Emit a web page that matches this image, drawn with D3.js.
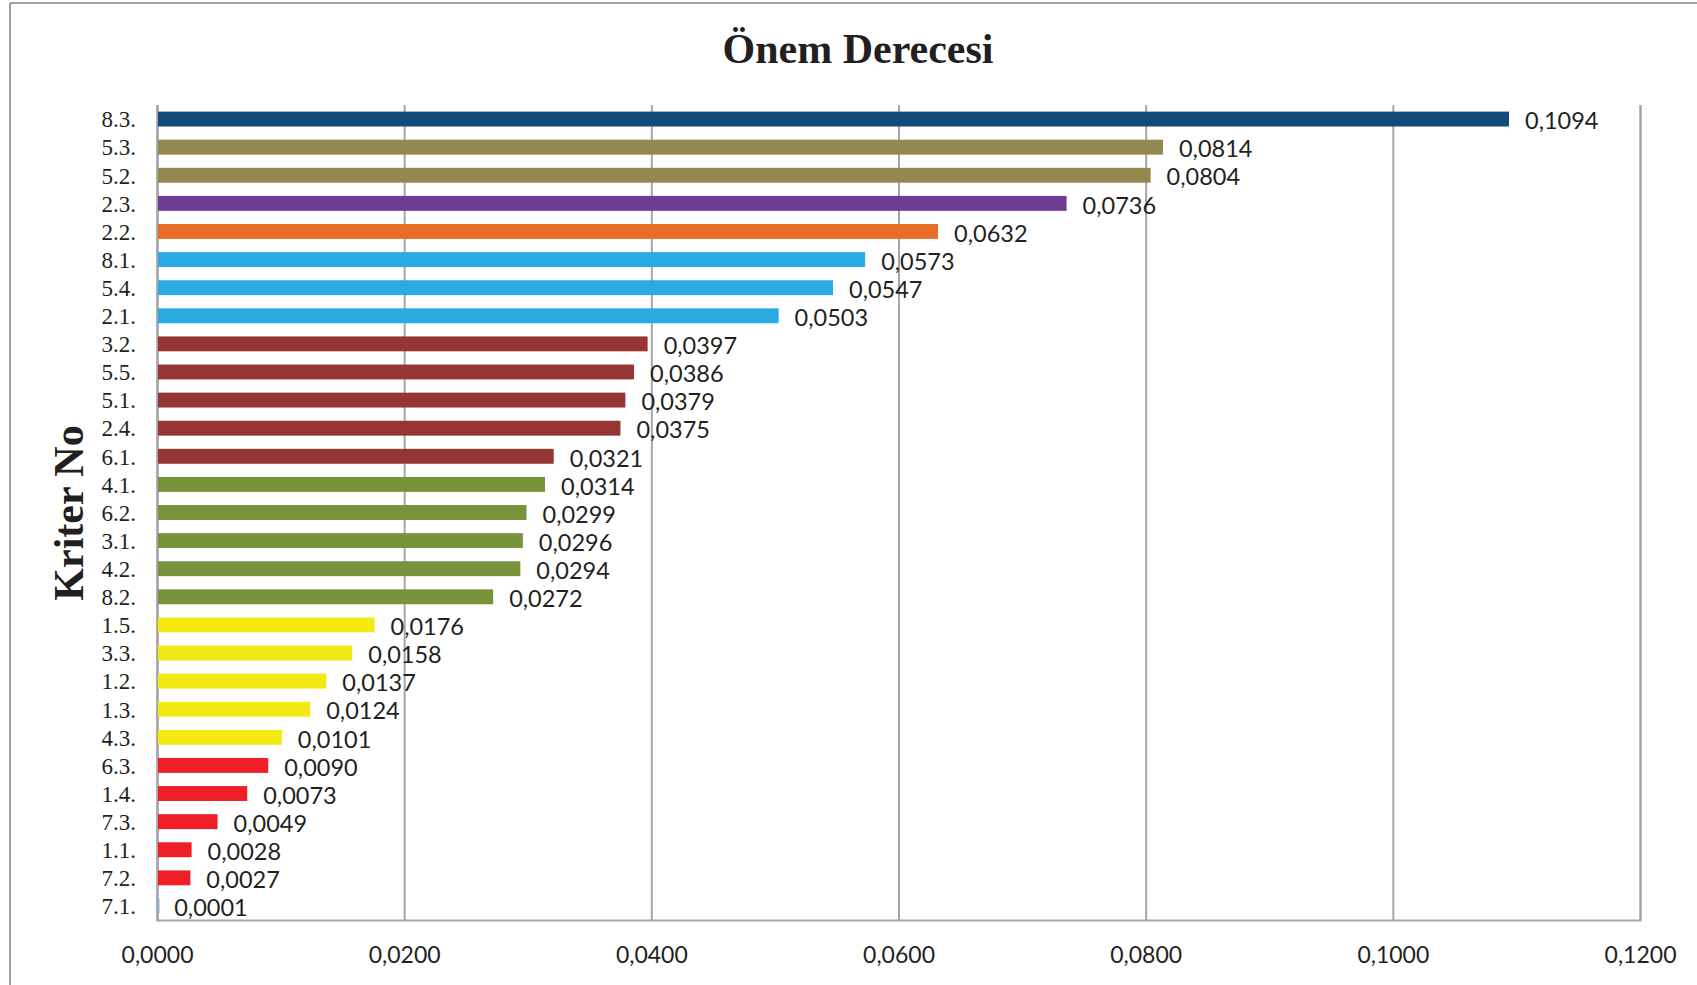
<!DOCTYPE html>
<html>
<head>
<meta charset="utf-8">
<script src="https://cdn.jsdelivr.net/npm/d3@7"></script>
<style>
  html, body { margin: 0; padding: 0; background: #fff; }
  svg { display: block; }
</style>
</head>
<body>
<svg id="chart" width="1697" height="985"></svg>
<script>
// ---- Data ----
const categories = ["8.3.","5.3.","5.2.","2.3.","2.2.","8.1.","5.4.","2.1.","3.2.","5.5.","5.1.","2.4.","6.1.","4.1.","6.2.","3.1.","4.2.","8.2.","1.5.","3.3.","1.2.","1.3.","4.3.","6.3.","1.4.","7.3.","1.1.","7.2.","7.1."];
const values = [0.1094,0.0814,0.0804,0.0736,0.0632,0.0573,0.0547,0.0503,0.0397,0.0386,0.0379,0.0375,0.0321,0.0314,0.0299,0.0296,0.0294,0.0272,0.0176,0.0158,0.0137,0.0124,0.0101,0.0090,0.0073,0.0049,0.0028,0.0027,0.0001];
const groups = ["g1","g2","g2","g3","g4","g5","g5","g5","g6","g6","g6","g6","g6","g7","g7","g7","g7","g7","g8","g8","g8","g8","g8","g9","g9","g9","g9","g9","g10"];
const groupColors = {g1:"#134A7C", g2:"#93884F", g3:"#6E3B96", g4:"#E66D24", g5:"#29ABE2", g6:"#953634", g7:"#77933C", g8:"#F2EA12", g9:"#EE1F26", g10:"#8DB3E2"};
const xTicks = [0,0.02,0.04,0.06,0.08,0.10,0.12];
const title = "Önem Derecesi";
const yTitle = "Kriter No";

// ---- Layout ----
const svg = d3.select("#chart");
const L = 157, R = 1640, T = 105, B = 920;
const gridColor = "#A6A6A9";
const serif = "'Liberation Serif','Times New Roman',serif";
const sans = "Lato,'Open Sans',sans-serif";
const fmt = v => v.toFixed(4).replace(".", ",");

const x = d3.scaleLinear().domain([0, 0.12]).range([L, R]);
const y = d3.scaleBand().domain(categories).range([T, B]).paddingInner(0.47).paddingOuter(0.235);

// outer frame
svg.append("line").attr("x1", 10).attr("x2", 1697).attr("y1", 3).attr("y2", 3)
  .attr("stroke", "#A0A0A4").attr("stroke-width", 2);
svg.append("line").attr("x1", 10).attr("x2", 10).attr("y1", 3).attr("y2", 985)
  .attr("stroke", "#A0A0A4").attr("stroke-width", 2);

// title
svg.append("text").attr("x", 858).attr("y", 63).attr("text-anchor", "middle")
  .style("font-family", serif).style("font-weight", "bold").style("font-size", "42px")
  .attr("fill", "#231F20").text(title);

// y title
svg.append("text").attr("transform", "translate(83,513) rotate(-90)").attr("text-anchor", "middle")
  .style("font-family", serif).style("font-weight", "bold").style("font-size", "42px")
  .attr("fill", "#231F20").text(yTitle);

// gridlines
const xAxis = d3.axisBottom(x).tickValues(xTicks).tickFormat(fmt).tickSize(-(B - T)).tickPadding(27);
const gx = svg.append("g").attr("transform", `translate(0,${B})`).call(xAxis);
gx.select(".domain").attr("stroke", gridColor).attr("stroke-width", 2);
gx.selectAll(".tick line").attr("stroke", gridColor).attr("stroke-width", 2);
gx.selectAll(".tick text").style("font-family", sans).style("font-size", "23px").attr("fill", "#231F20");

// y axis
const yAxis = d3.axisLeft(y).tickSize(0).tickPadding(21);
const gy = svg.append("g").attr("transform", `translate(${L},0)`).call(yAxis);
gy.select(".domain").attr("stroke", gridColor).attr("stroke-width", 2);
gy.selectAll(".tick text").style("font-family", serif).style("font-size", "23px").attr("fill", "#231F20").attr("dy", "0.36em");

// bars
svg.append("g").selectAll("rect").data(categories).join("rect")
  .attr("x", L + 1)
  .attr("y", d => y(d))
  .attr("width", (d, i) => Math.max(1.5, x(values[i]) - L - 1))
  .attr("height", y.bandwidth())
  .attr("fill", (d, i) => groupColors[groups[i]]);

// value labels
svg.append("g").selectAll("text").data(categories).join("text")
  .attr("x", (d, i) => x(values[i]) + 16)
  .attr("y", d => y(d) + y.bandwidth() / 2 + 2)
  .attr("dy", "0.35em")
  .style("font-family", sans).style("font-size", "23.5px").attr("fill", "#231F20")
  .text((d, i) => fmt(values[i]));
</script>
</body>
</html>
